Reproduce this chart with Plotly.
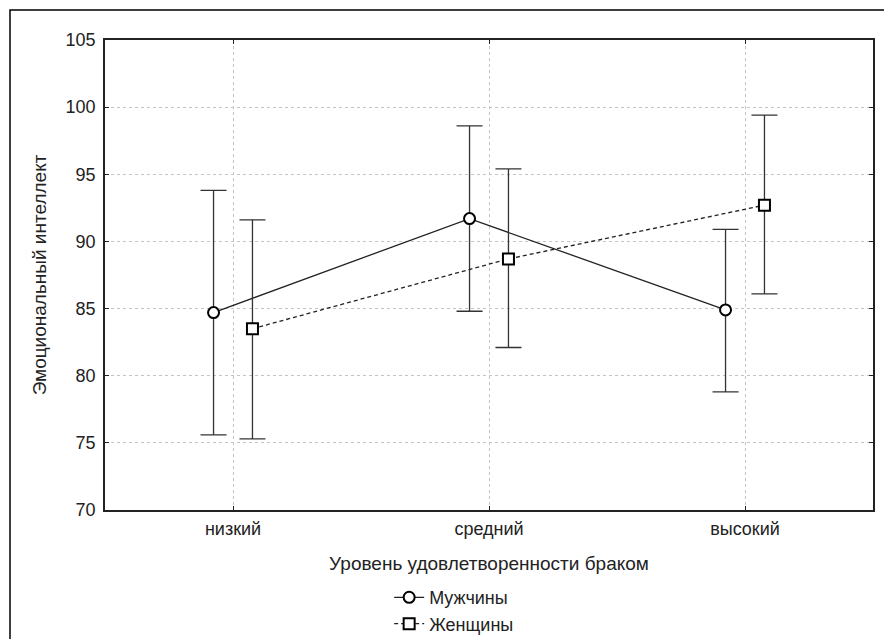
import plotly.graph_objects as go

categories = ["низкий", "средний", "высокий"]
men_mean = [84.7, 91.7, 84.9]
men_upper = [93.8, 98.6, 90.9]
men_lower = [75.6, 84.8, 78.8]
women_mean = [83.5, 88.7, 92.7]
women_upper = [91.6, 95.4, 99.4]
women_lower = [75.3, 82.1, 86.1]
y_ticks = [70, 75, 80, 85, 90, 95, 100, 105]

FONT = "Liberation Sans, Arial, sans-serif"
TXT = "#222222"
offset = 0.076
idx = list(range(len(categories)))

def err(mean, up, lo):
    return dict(type="data", symmetric=False,
                array=[u - m for u, m in zip(up, mean)],
                arrayminus=[m - l for m, l in zip(mean, lo)],
                color="#333333", thickness=1.3, width=13)

fig = go.Figure()
fig.add_trace(go.Scatter(
    x=[i - offset for i in idx], y=men_mean, name="Мужчины",
    mode="lines+markers",
    line=dict(color="#222222", width=1.3),
    marker=dict(symbol="circle", size=11, color="white",
                line=dict(color="black", width=2)),
    error_y=err(men_mean, men_upper, men_lower)))
fig.add_trace(go.Scatter(
    x=[i + offset for i in idx], y=women_mean, name="Женщины",
    mode="lines+markers",
    line=dict(color="#222222", width=1.3, dash="4px,3px"),
    marker=dict(symbol="square", size=11, color="white",
                line=dict(color="black", width=2)),
    error_y=err(women_mean, women_upper, women_lower)))

fig.add_shape(type="rect", xref="paper", yref="paper",
              x0=-0.1237, x1=1.2, y0=-0.5, y1=1.0638,
              line=dict(color="black", width=1.5), layer="below")

axis_common = dict(showline=True, linecolor="#222222", linewidth=1.5,
                   mirror="ticks", ticks="inside", ticklen=4,
                   tickcolor="#222222", showgrid=True,
                   gridcolor="#c4c4c4", griddash="dot", gridwidth=1,
                   zeroline=False,
                   tickfont=dict(family=FONT, size=18, color=TXT))

fig.update_xaxes(**axis_common, range=[-0.5, 2.5], tickvals=idx,
                 ticktext=categories, ticklabelstandoff=2,
                 title=dict(text="Уровень удовлетворенности браком",
                            font=dict(family=FONT, size=19, color=TXT),
                            standoff=18))
fig.update_yaxes(**axis_common, range=[70, 105], tickvals=y_ticks,
                 ticklabelstandoff=4,
                 title=dict(text="Эмоциональный интеллект",
                            font=dict(family=FONT, size=19, color=TXT),
                            standoff=14))

fig.update_layout(
    width=884, height=639,
    margin=dict(l=105, r=11, t=40, b=129, autoexpand=False),
    paper_bgcolor="white", plot_bgcolor="white",
    font=dict(family=FONT, size=19, color=TXT),
    showlegend=True,
    legend=dict(x=0.37, y=-0.147, xanchor="left", yanchor="top",
                bgcolor="rgba(0,0,0,0)", itemwidth=30,
                font=dict(family=FONT, size=18, color=TXT),
                tracegroupgap=0),
)

fig.write_html("out.html", config={"displayModeBar": False},
               post_script="document.body.style.margin='0';document.body.style.overflow='hidden';")
